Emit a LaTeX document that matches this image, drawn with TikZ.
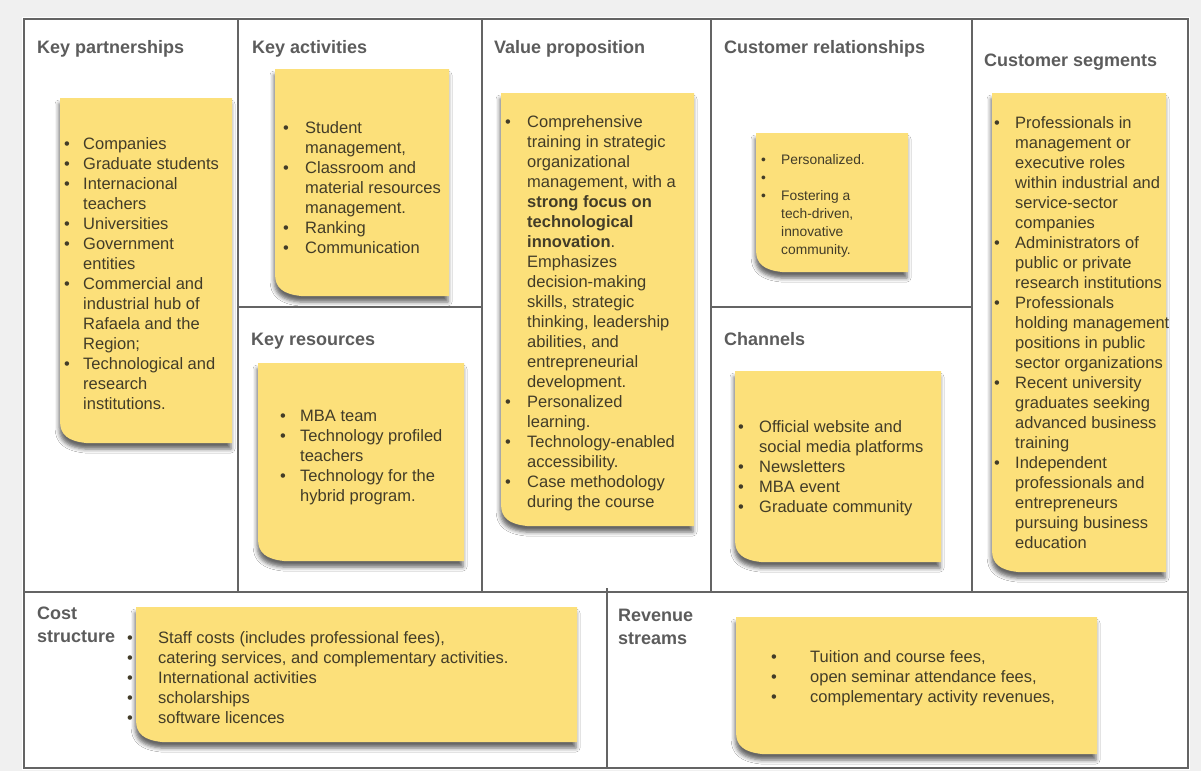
\documentclass[tikz,border=0pt]{standalone}
\usepackage{fontspec}
\setmainfont{Liberation Sans}
\usetikzlibrary{shadows.blur}

\definecolor{canvasgrey}{RGB}{240,240,240}
\definecolor{gridline}{RGB}{100,100,100}
\definecolor{headgrey}{RGB}{92,92,92}
\definecolor{postit}{RGB}{252,224,122}
\definecolor{postittext}{RGB}{66,60,40}

\tikzset{
  frameline/.style={draw=gridline, line width=2.2pt},
  divider/.style={draw=gridline, line width=1.6pt},
  paper/.style={fill=postit, blur shadow={shadow xshift=-1pt, shadow yshift=-6pt, shadow blur radius=4pt, shadow opacity=60}},
  heading/.style={anchor=base west, inner sep=0pt, text=headgrey, font=\fontsize{18}{23}\selectfont\bfseries},
  notetext/.style={anchor=base west, inner sep=0pt, text=postittext, font=\fontsize{16.5}{20}\selectfont},
  smalltext/.style={notetext, font=\fontsize{13.8}{18}\selectfont},
}

% sticky note with a curled lower left corner: x1 y1 x2 y2
\newcommand{\postit}[4]{%
  \path[paper] (#1,#2) -- (#3,#2) -- (#3,#4) -- ({#1+26},#4)
    .. controls ({#1+8},{#4-2}) and (#1,{#4-8}) .. (#1,{#4-22}) -- cycle;
}
% bullet list, #1 = bullet to text distance
\newcommand{\itemlist}[2]{\begin{tabular}[t]{@{}p{#1}@{}l@{}}#2\end{tabular}}
\newcommand{\bul}{\textbullet}

\begin{document}
\begin{tikzpicture}[x=1pt, y=-1pt]
  \useasboundingbox (0,0) rectangle (1201,771);
  \fill[canvasgrey] (0,0) rectangle (1201,771);
  \fill[white] (22,17) rectangle (1190,770);

  % canvas grid
  \foreach \x in {238,482,711,972}
    \draw[divider] (\x,19) -- (\x,592);
  \draw[divider] (238,307) -- (482,307);
  \draw[divider] (711,307) -- (972,307);
  \draw[divider] (24,592) -- (1188,592);
  \draw[divider] (607,588) -- (607,768);
  \draw[frameline] (24,19) -- (1188,19) -- (1188,768) -- (24,768) -- cycle;

  % headings
  \node[heading] (kphead) at (37,53) {Key partnerships};
  \node[heading] (kahead) at (252,53) {Key activities};
  \node[heading] (vphead) at (494,53) {Value proposition};
  \node[heading] (crhead) at (724,53) {Customer relationships};
  \node[heading] (cshead) at (984,66) {Customer segments};
  \node[heading] (krhead) at (251,345) {Key resources};
  \node[heading] (chhead) at (724,345) {Channels};
  \node[heading] (costhead) at (37,619) {\begin{tabular}[t]{@{}l@{}}Cost\\structure\end{tabular}};
  \node[heading] (revhead) at (618,621) {\begin{tabular}[t]{@{}l@{}}Revenue\\streams\end{tabular}};

  % notes
  \postit{60}{98}{232}{443}
  \postit{275}{69}{449}{296}
  \postit{258}{363}{464}{561}
  \postit{501}{93}{694}{526}
  \postit{756}{133}{908}{272}
  \postit{735}{371}{941}{562}
  \postit{992}{93}{1166}{572}
  \postit{136}{607}{577}{742}
  \postit{736}{617}{1097}{754}

  \node[notetext] (kplist) at (64,149) {\itemlist{19pt}{%
    \bul & Companies\\
    \bul & Graduate students\\
    \bul & Internacional\\
         & teachers\\
    \bul & Universities\\
    \bul & Government\\
         & entities\\
    \bul & Commercial and\\
         & industrial hub of\\
         & Rafaela and the\\
         & Region;\\
    \bul & Technological and\\
         & research\\
         & institutions.}};

  \node[notetext] (kalist) at (283,133) {\itemlist{22pt}{%
    \bul & Student\\
         & management,\\
    \bul & Classroom and\\
         & material resources\\
         & management.\\
    \bul & Ranking\\
    \bul & Communication}};

  \node[notetext] (vplist) at (505,127) {\itemlist{22pt}{%
    \bul & Comprehensive\\
         & training in strategic\\
         & organizational\\
         & management, with a\\
         & \textbf{strong focus on}\\
         & \textbf{technological}\\
         & \textbf{innovation}.\\
         & Emphasizes\\
         & decision-making\\
         & skills, strategic\\
         & thinking, leadership\\
         & abilities, and\\
         & entrepreneurial\\
         & development.\\
    \bul & Personalized\\
         & learning.\\
    \bul & Technology-enabled\\
         & accessibility.\\
    \bul & Case methodology\\
         & during the course}};

  \node[smalltext] (crlist) at (761,164) {\itemlist{20pt}{%
    \bul & Personalized.\\
    \bul & \\
    \bul & Fostering a\\
         & tech-driven,\\
         & innovative\\
         & community.}};

  \node[notetext] (krlist) at (280,421) {\itemlist{20pt}{%
    \bul & MBA team\\
    \bul & Technology profiled\\
         & teachers\\
    \bul & Technology for the\\
         & hybrid program.}};

  \node[notetext] (chlist) at (738,432) {\itemlist{21pt}{%
    \bul & Official website and\\
         & social media platforms\\
    \bul & Newsletters\\
    \bul & MBA event\\
    \bul & Graduate community}};

  \node[notetext] (cslist) at (994,128) {\itemlist{21pt}{%
    \bul & Professionals in\\
         & management or\\
         & executive roles\\
         & within industrial and\\
         & service-sector\\
         & companies\\
    \bul & Administrators of\\
         & public or private\\
         & research institutions\\
    \bul & Professionals\\
         & holding management\\
         & positions in public\\
         & sector organizations\\
    \bul & Recent university\\
         & graduates seeking\\
         & advanced business\\
         & training\\
    \bul & Independent\\
         & professionals and\\
         & entrepreneurs\\
         & pursuing business\\
         & education}};

  \node[notetext] (costlist) at (127,643) {\itemlist{31pt}{%
    \bul & Staff costs (includes professional fees),\\
    \bul & catering services, and complementary activities.\\
    \bul & International activities\\
    \bul & scholarships\\
    \bul & software licences}};

  \node[notetext] (revlist) at (771,662) {\itemlist{39pt}{%
    \bul & Tuition and course fees,\\
    \bul & open seminar attendance fees,\\
    \bul & complementary activity revenues,}};
\end{tikzpicture}
\end{document}
